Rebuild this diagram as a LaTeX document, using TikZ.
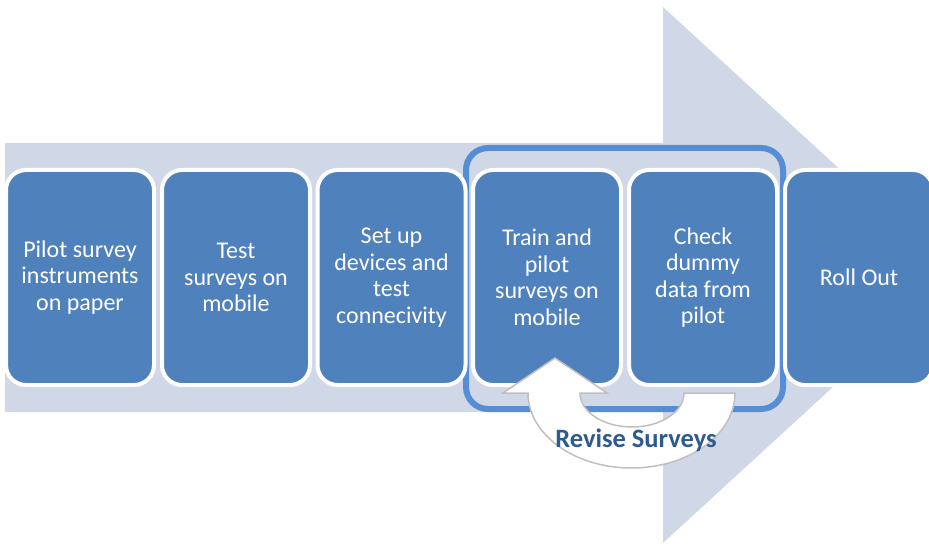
\documentclass[tikz,border=0pt]{standalone}
\usepackage{fontspec}
\setmainfont{Carlito}
\definecolor{shaftc}{HTML}{D0D7E7}
\definecolor{boxc}{HTML}{4F81BD}
\definecolor{framec}{HTML}{558ED5}
\definecolor{revc}{HTML}{2E5A8E}
\definecolor{arrstroke}{HTML}{BFBFBF}
\tikzset{
  stepbox/.style={rectangle, rounded corners=20pt, fill=boxc, draw=white, line width=4pt,
    minimum width=148pt, minimum height=215pt, text=white, align=center,
    font=\fontsize{24}{26.5}\selectfont, inner sep=0pt},
}
\begin{document}
\begin{tikzpicture}[x=1pt,y=-1pt]
\useasboundingbox (0,0) rectangle (929,545);
\clip (0,0) rectangle (929,545);
% big background arrow
\fill[shaftc] (5,143) -- (663,143) -- (663,7) -- (955,275) -- (663,543) -- (663,412) -- (5,412) -- cycle;
% highlight frame
\draw[framec, line width=6pt, rounded corners=22pt] (466,148) rectangle (783,409);
% steps
\node[stepbox] (b1) at (80,277.5) {Pilot survey\\instruments\\on paper};
\node[stepbox] (b2) at (236,277.5) {Test\\surveys on\\mobile};
\node[stepbox] (b3) at (391.5,277.5) {Set up\\devices and\\test\\connecivity};
\node[stepbox] (b4) at (547,277.5) {Train and\\pilot\\surveys on\\mobile};
\node[stepbox] (b5) at (703,277.5) {Check\\dummy\\data from\\pilot};
\node[stepbox] (b6) at (859,277.5) {Roll Out};
% curved revise arrow
\draw[fill=white, draw=arrstroke, line width=1.5pt, line join=miter]
  (735,393) .. controls (735,434.4) and (688.7,468) .. (631.5,468)
  .. controls (574.3,468) and (528,434.4) .. (528,393)
  -- (503,393) -- (555,358) -- (607,393) -- (580,393)
  .. controls (580,411.8) and (603.3,427) .. (632,427)
  .. controls (660.7,427) and (684,411.8) .. (684,393) -- cycle;
\node[text=revc, font=\fontsize{26.5}{30}\selectfont\bfseries, inner sep=0pt] (rev) at (636,440) {Revise Surveys};
\end{tikzpicture}
\end{document}
